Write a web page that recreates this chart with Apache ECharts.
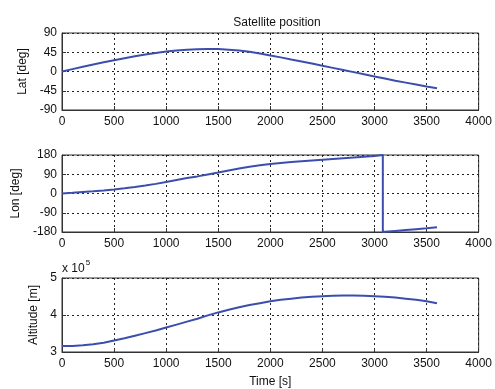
<!DOCTYPE html>
<html>
<head>
<meta charset="utf-8">
<script src="https://cdn.jsdelivr.net/npm/echarts@6/dist/echarts.min.js"></script>
<style>
html, body { margin: 0; padding: 0; background: #fff; }
#main { width: 495px; height: 389px; }
</style>
</head>
<body>
<div id="main"></div>
<script>
// time samples [s]
var timeS = [0, 100, 200, 300, 400, 500, 600, 700, 800, 900, 1000, 1100, 1200, 1300, 1400, 1500, 1600, 1700, 1800,
    1900, 2000, 2100, 2200, 2300, 2400, 2500, 2600, 2700, 2800, 2900, 3000, 3100, 3200, 3300, 3400, 3500, 3600];
// latitude [deg]
var latDeg = [0, 5.5, 11, 16.5, 21.5, 26.5, 31, 35.5, 39.5, 43.5, 46.5, 49, 51, 52.3, 52.8, 52.5, 51, 49, 46,
    42, 37.5, 33, 28, 23.5, 18.5, 13.5, 8.5, 3.5, -1.5, -6.5, -11.5, -16.5, -21.5, -26, -30.5, -35, -39];
// longitude [deg], wraps at 180 -> -180
var lonTime = [0, 100, 200, 300, 400, 500, 600, 700, 800, 900, 1000, 1100, 1200, 1300, 1400, 1500, 1600, 1700, 1800,
    1900, 2000, 2100, 2200, 2300, 2400, 2500, 2600, 2700, 2800, 2900, 3000, 3080, 3080, 3100, 3200, 3300, 3400, 3500, 3600];
var lonDeg = [0, 3, 6.5, 10, 14, 18.5, 24, 30, 37, 45, 54, 63, 72, 80, 89, 98, 108, 117, 125,
    132, 138, 143, 147.5, 151, 154.5, 158, 161.5, 165, 168.5, 172, 175, 179.5, -180, -179, -175, -171, -167, -163, -158];
// altitude [m]
var altM = [316000, 316500, 318000, 321000, 325000, 331000, 337000, 344000, 351000, 358000, 366000, 374000, 382000,
    390000, 399000, 407000, 414000, 421000, 427000, 432000, 437000, 441000, 444000, 447000, 449000, 451000, 452000,
    453000, 453000, 452000, 451000, 449000, 447000, 444000, 441000, 437000, 432000];

var xTicks = [0, 4000, 500];

function pairs(xs, ys) {
    var out = [];
    for (var i = 0; i < xs.length; i++) out.push([xs[i], ys[i]]);
    return out;
}

var chart = echarts.init(document.getElementById('main'));
var font = 'Liberation Sans, Arial, sans-serif';
var gridLine = {show: true, lineStyle: {color: '#222', type: [2, 3], width: 1}};
var lineColor = '#3b4eae';

function xAxisOf(idx, name) {
    return {
        type: 'value', gridIndex: idx, min: xTicks[0], max: xTicks[1], interval: xTicks[2],
        name: name || '', nameLocation: 'middle', nameGap: 24,
        nameTextStyle: {color: '#111', fontSize: 12, fontFamily: font},
        axisLine: {show: true, onZero: false, lineStyle: {color: '#333'}},
        axisTick: {show: true, inside: true, length: 4, lineStyle: {color: '#333'}},
        axisLabel: {color: '#111', fontSize: 12, fontFamily: font, margin: 6,
            formatter: function (v) { return String(v); }},
        splitLine: gridLine
    };
}

function yAxisOf(idx, min, max, step, name, gap, fmt) {
    return {
        type: 'value', gridIndex: idx, min: min, max: max, interval: step,
        name: name, nameLocation: 'middle', nameGap: gap, nameRotate: 90,
        nameTextStyle: {color: '#111', fontSize: 12, fontFamily: font},
        axisLine: {show: true, onZero: false, lineStyle: {color: '#333'}},
        axisTick: {show: true, inside: true, length: 4, lineStyle: {color: '#333'}},
        axisLabel: {color: '#111', fontSize: 12, fontFamily: font, margin: 5,
            formatter: fmt || function (v) { return String(v); }},
        splitLine: gridLine
    };
}

chart.setOption({
    backgroundColor: '#fff',
    animation: false,
    title: {
        text: 'Satellite position', left: 272, top: 12, textAlign: 'center',
        textStyle: {color: '#111', fontSize: 12, fontWeight: 'normal', fontFamily: font}
    },
    grid: [
        {left: 62, right: 13, top: 33, height: 77, show: true, borderColor: '#333', borderWidth: 1},
        {left: 62, right: 13, top: 155, height: 77, show: true, borderColor: '#333', borderWidth: 1},
        {left: 62, right: 13, top: 278, height: 77, show: true, borderColor: '#333', borderWidth: 1}
    ],
    xAxis: [xAxisOf(0), xAxisOf(1), xAxisOf(2, 'Time [s]')],
    yAxis: [
        yAxisOf(0, -90, 90, 45, 'Lat [deg]', 27),
        yAxisOf(1, -180, 180, 90, 'Lon [deg]', 35),
        yAxisOf(2, 300000, 500000, 100000, 'Altitude [m]', 17, function (v) { return v / 100000; })
    ],
    graphic: [{
        type: 'text', left: 62, top: 259,
        style: {
            text: '{a|x 10}{b|5}', fill: '#111',
            rich: {
                a: {fontSize: 12, fontFamily: font, fill: '#111', verticalAlign: 'bottom'},
                b: {fontSize: 8, fontFamily: font, fill: '#111', verticalAlign: 'top', padding: [0, 0, 8, 1]}
            }
        }
    }],
    series: [
        {type: 'line', xAxisIndex: 0, yAxisIndex: 0, data: pairs(timeS, latDeg), showSymbol: false,
            lineStyle: {color: lineColor, width: 2}, itemStyle: {color: lineColor}},
        {type: 'line', xAxisIndex: 1, yAxisIndex: 1, data: pairs(lonTime, lonDeg), showSymbol: false,
            lineStyle: {color: lineColor, width: 2}, itemStyle: {color: lineColor}},
        {type: 'line', xAxisIndex: 2, yAxisIndex: 2, data: pairs(timeS, altM), showSymbol: false,
            lineStyle: {color: lineColor, width: 2}, itemStyle: {color: lineColor}}
    ]
});
</script>
</body>
</html>
